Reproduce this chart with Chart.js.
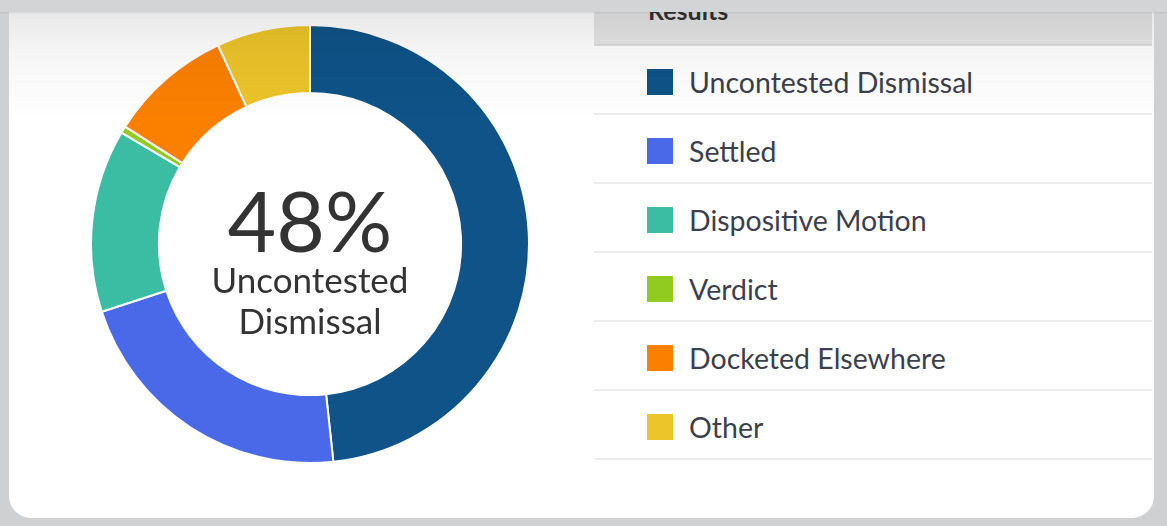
<!DOCTYPE html>
<html>
<head>
<meta charset="utf-8">
<script src="https://cdn.jsdelivr.net/npm/chart.js@4.4.1/dist/chart.umd.min.js"></script>
<style>
  html, body { margin: 0; padding: 0; }
  body {
    width: 1167px; height: 526px; overflow: hidden; position: relative;
    background: #cfd0d2; font-family: Lato, sans-serif;
  }
  #card {
    position: absolute; left: 9px; top: 0; width: 1145px; height: 518px;
    background: #fff; border-radius: 0 0 22px 22px; overflow: hidden;
  }
  #topbar {
    position: absolute; left: 0; top: 0; width: 1167px; height: 12px;
    background: #d3d4d6; z-index: 5; box-shadow: 0 1px 2px rgba(0,0,0,0.08);
  }
  #chart-box { position: absolute; left: 81px; top: 24px; width: 440px; height: 440px; }
  #legend {
    position: absolute; left: 585px; top: 0; width: 558px;
    border-collapse: collapse;
  }
  #legend th {
    height: 44px; text-align: left; padding: 0 0 0 54px; vertical-align: top;
    background: #e6e6e7; color: #333; font-size: 25px; font-weight: bold;
    line-height: 20px; border-bottom: 2px solid #dcdcdc;
  }
  #legend td {
    height: 67px; padding: 0 0 0 53px; border-bottom: 2px solid #ececec;
    font-size: 28.5px; color: #3d3f4c;
  }
  .sw { display: inline-block; width: 26px; height: 26px; vertical-align: middle; margin-right: 16px; position: relative; top: -1px; }
  .lbl { position: relative; top: 2px; }
  #shade {
    position: absolute; left: 0; top: 0; width: 100%; height: 130px; pointer-events: none;
    background: linear-gradient(to bottom, rgba(0,0,0,0.11) 0px, rgba(0,0,0,0.04) 50px, rgba(0,0,0,0) 120px);
    z-index: 3;
  }
</style>
</head>
<body>
<div id="topbar"></div>
<div id="card">
  <div id="chart-box"><canvas id="donut"></canvas></div>
  <table id="legend">
    <thead><tr><th>Results</th></tr></thead>
    <tbody id="legend-body"></tbody>
  </table>
  <div id="shade"></div>
</div>
<script>
// Case outcome shares (percent)
const labels = ["Uncontested Dismissal", "Settled", "Dispositive Motion", "Verdict", "Docketed Elsewhere", "Other"];
const shares = [48.3, 21.7, 13.5, 0.5, 9.1, 6.9];
const colors = ["#0f5388", "#4969e8", "#3abda2", "#92cb20", "#fb8000", "#ecc52a"];
const centerValue = "48%";
const centerLabel = ["Uncontested", "Dismissal"];

// Build the legend table from the same arrays
const legendBody = document.getElementById("legend-body");
labels.forEach((label, i) => {
    const row = document.createElement("tr");
    row.innerHTML = `<td><span class="sw" style="background:${colors[i]}"></span><span class="lbl">${label}</span></td>`;
    legendBody.appendChild(row);
});

// Big percentage in the hole
const centerText = {
    id: "centerText",
    afterDraw(chart) {
        const meta = chart.getDatasetMeta(0).data[0];
        const ctx = chart.ctx;
        const x = meta.x, y = meta.y;
        ctx.save();
        ctx.fillStyle = "#333333";
        ctx.textAlign = "center";
        ctx.textBaseline = "alphabetic";
        ctx.font = "84px Lato";
        ctx.fillText(centerValue, x, y + 8);
        ctx.font = "35px Lato";
        ctx.fillText(centerLabel[0], x, y + 49);
        ctx.fillText(centerLabel[1], x, y + 90);
        ctx.restore();
    }
};

new Chart(document.getElementById("donut"), {
    type: "doughnut",
    data: {
        labels: labels,
        datasets: [{
            data: shares,
            backgroundColor: colors,
            borderColor: "#ffffff",
            borderWidth: 2
        }]
    },
    options: {
        responsive: true,
        maintainAspectRatio: false,
        animation: false,
        cutout: "69%",
        layout: { padding: 0 },
        plugins: {
            legend: { display: false },
            tooltip: { enabled: false }
        }
    },
    plugins: [centerText]
});
</script>
</body>
</html>
